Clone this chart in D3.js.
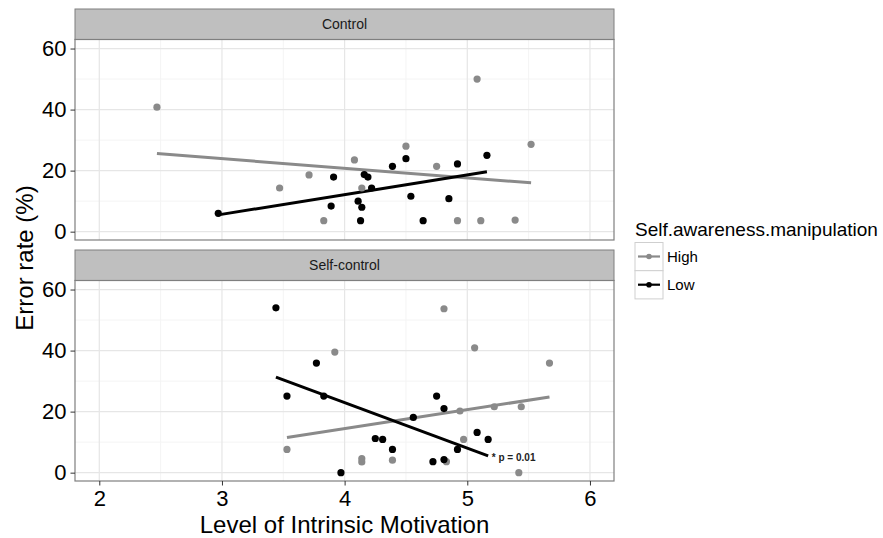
<!DOCTYPE html>
<html>
<head>
	<style>
		html, body { margin: 0; padding: 0; background: white; }
		svg { display: block; font-family: "Liberation Sans", Arial, sans-serif; }
	</style>
</head>
<body>
<svg id="chart" width="883" height="538"></svg>
<script src="https://d3js.org/d3.v7.min.js"></script>
<script>

// facets, groups and ticks
var panels = ['Control', 'Self-control']
var groups = ['High', 'Low']
var xTicks = [2, 3, 4, 5, 6]
var yTicks = [0, 20, 40, 60]

// Control panel, [intrinsic motivation, error rate]
var controlHigh = [
	[2.47, 40.8], [3.47, 14.3], [3.71, 18.6], [3.83, 3.6], [4.08, 23.5],
	[4.14, 14.3], [4.50, 28.0], [4.75, 21.4], [4.92, 3.6], [5.08, 50.0],
	[5.11, 3.6], [5.39, 3.8], [5.52, 28.6]
]
var controlLow = [
	[2.97, 6.0], [3.89, 8.4], [3.91, 17.9], [4.11, 10.0], [4.14, 8.0],
	[4.13, 3.6], [4.16, 18.7], [4.19, 17.9], [4.22, 14.3], [4.39, 21.4],
	[4.50, 23.9], [4.54, 11.6], [4.64, 3.6], [4.85, 10.8], [4.92, 22.2],
	[5.16, 25.0]
]

// Self-control panel
var selfHigh = [
	[3.53, 7.6], [3.92, 39.5], [4.14, 4.6], [4.14, 3.5], [4.39, 4.1],
	[4.81, 53.7], [4.83, 3.6], [4.94, 20.2], [4.97, 10.9], [5.06, 40.9],
	[5.22, 21.6], [5.42, 0.0], [5.44, 21.6], [5.67, 35.9]
]
var selfLow = [
	[3.44, 54.0], [3.53, 25.1], [3.77, 35.9], [3.83, 25.1], [3.97, 0.0],
	[4.25, 11.2], [4.31, 10.9], [4.39, 7.6], [4.56, 18.1], [4.72, 3.6],
	[4.75, 25.1], [4.81, 21.0], [4.81, 4.3], [4.92, 7.6], [5.08, 13.2],
	[5.17, 10.9]
]

var controlHighFit = [[2.47, 25.6], [5.52, 16.0]]
var controlLowFit = [[2.97, 5.5], [5.16, 19.6]]
var selfHighFit = [[3.53, 11.5], [5.67, 24.8]]
var selfLowFit = [[3.44, 31.3], [5.17, 5.5]]

var note = { panel: 1, x: 5.20, y: 3.9, text: '* p = 0.01' }

var cfg = {
	left: 75,
	right: 614,
	stripTop: [9, 250],
	stripH: 30.5,
	plotH: 200.5,
	pointR: 3.6,
	lineW: 3,
	colors: { High: '#8a8a8a', Low: '#000000' }
}

var panelData = [
	{ name: panels[0], pts: { High: controlHigh, Low: controlLow }, fit: { High: controlHighFit, Low: controlLowFit } },
	{ name: panels[1], pts: { High: selfHigh, Low: selfLow }, fit: { High: selfHighFit, Low: selfLowFit } }
]

var svg = d3.select('#chart')

var x = d3.scaleLinear()
	.domain([1.802, 6.196])
	.range([cfg.left, cfg.right])

var minorX = [2.5, 3.5, 4.5, 5.5]
var minorY = [10, 30, 50]

panelData.forEach(function(p, i) {
	var top = cfg.stripTop[i] + cfg.stripH
	var y = d3.scaleLinear()
		.domain([-2.73, 62.96])
		.range([top + cfg.plotH, top])

	var g = svg.append('g')

	// strip
	g.append('rect')
		.attr('x', cfg.left).attr('y', cfg.stripTop[i])
		.attr('width', cfg.right - cfg.left).attr('height', cfg.stripH)
		.attr('fill', '#bfbfbf').attr('stroke', '#7f7f7f').attr('stroke-width', 1)
	g.append('text')
		.attr('x', (cfg.left + cfg.right) / 2)
		.attr('y', cfg.stripTop[i] + cfg.stripH / 2 + 5)
		.attr('text-anchor', 'middle')
		.attr('font-size', 14)
		.attr('fill', '#1a1a1a')
		.text(p.name)

	// panel bg + grid
	g.append('rect')
		.attr('x', cfg.left).attr('y', top)
		.attr('width', cfg.right - cfg.left).attr('height', cfg.plotH)
		.attr('fill', 'white')

	g.selectAll('.minx').data(minorX).enter().append('line')
		.attr('x1', function(d) { return x(d) }).attr('x2', function(d) { return x(d) })
		.attr('y1', top).attr('y2', top + cfg.plotH)
		.attr('stroke', '#f4f4f4').attr('stroke-width', 1)
	g.selectAll('.miny').data(minorY).enter().append('line')
		.attr('x1', cfg.left).attr('x2', cfg.right)
		.attr('y1', function(d) { return y(d) }).attr('y2', function(d) { return y(d) })
		.attr('stroke', '#f4f4f4').attr('stroke-width', 1)
	g.selectAll('.majx').data(xTicks).enter().append('line')
		.attr('x1', function(d) { return x(d) }).attr('x2', function(d) { return x(d) })
		.attr('y1', top).attr('y2', top + cfg.plotH)
		.attr('stroke', '#e6e6e6').attr('stroke-width', 1.2)
	g.selectAll('.majy').data(yTicks).enter().append('line')
		.attr('x1', cfg.left).attr('x2', cfg.right)
		.attr('y1', function(d) { return y(d) }).attr('y2', function(d) { return y(d) })
		.attr('stroke', '#e6e6e6').attr('stroke-width', 1.2)

	// fitted lines
	groups.forEach(function(grp) {
		g.append('path')
			.datum(p.fit[grp])
			.attr('fill', 'none')
			.attr('stroke', cfg.colors[grp])
			.attr('stroke-width', cfg.lineW)
			.attr('d', d3.line().x(function(d) { return x(d[0]) }).y(function(d) { return y(d[1]) }))
	})

	// points
	groups.forEach(function(grp) {
		g.selectAll('.pt-' + grp).data(p.pts[grp]).enter().append('circle')
			.attr('cx', function(d) { return x(d[0]) })
			.attr('cy', function(d) { return y(d[1]) })
			.attr('r', cfg.pointR)
			.attr('fill', cfg.colors[grp])
	})

	// border
	g.append('rect')
		.attr('x', cfg.left).attr('y', top)
		.attr('width', cfg.right - cfg.left).attr('height', cfg.plotH)
		.attr('fill', 'none').attr('stroke', '#7f7f7f').attr('stroke-width', 1.2)

	// y axis
	var ay = g.append('g').attr('transform', 'translate(' + cfg.left + ',0)')
		.call(d3.axisLeft(y).tickValues(yTicks).tickSize(4.5).tickPadding(4).tickFormat(d3.format('d')))
	ay.select('.domain').remove()
	ay.selectAll('line').attr('stroke', '#333')
	ay.selectAll('text').attr('font-size', 22).attr('fill', '#000')
		.attr('font-family', '"Liberation Sans", Arial, sans-serif')

	if (note.panel === i) {
		g.append('text')
			.attr('x', x(note.x)).attr('y', y(note.y))
			.attr('font-size', 10).attr('font-weight', 'bold')
			.attr('fill', '#222')
			.attr('font-family', '"Liberation Sans", Arial, sans-serif')
			.text(note.text)
	}

	if (i === panelData.length - 1) {
		var ax = g.append('g').attr('transform', 'translate(0,' + (top + cfg.plotH) + ')')
			.call(d3.axisBottom(x).tickValues(xTicks).tickSize(4.5).tickPadding(5).tickFormat(d3.format('d')))
		ax.select('.domain').remove()
		ax.selectAll('line').attr('stroke', '#333')
		ax.selectAll('text').attr('font-size', 22).attr('fill', '#000')
			.attr('font-family', '"Liberation Sans", Arial, sans-serif')
	}
})

// axis titles
svg.append('text')
	.attr('x', (cfg.left + cfg.right) / 2).attr('y', 533)
	.attr('text-anchor', 'middle').attr('font-size', 24)
	.text('Level of Intrinsic Motivation')
svg.append('text')
	.attr('transform', 'translate(33,258) rotate(-90)')
	.attr('text-anchor', 'middle').attr('font-size', 24)
	.text('Error rate (%)')

// legend
var leg = svg.append('g').attr('transform', 'translate(635,0)')
leg.append('text')
	.attr('x', 0).attr('y', 236)
	.attr('font-size', 19)
	.text('Self.awareness.manipulation')
groups.forEach(function(grp, k) {
	var ky = 242.5 + k * 28.2
	leg.append('rect')
		.attr('x', 0).attr('y', ky).attr('width', 28).attr('height', 28.2)
		.attr('fill', 'white').attr('stroke', '#cfcfcf').attr('stroke-width', 1)
	leg.append('line')
		.attr('x1', 3).attr('x2', 25).attr('y1', ky + 14).attr('y2', ky + 14)
		.attr('stroke', cfg.colors[grp]).attr('stroke-width', 2.2)
	leg.append('circle')
		.attr('cx', 14).attr('cy', ky + 14).attr('r', 2.8)
		.attr('fill', cfg.colors[grp])
	leg.append('text')
		.attr('x', 32).attr('y', ky + 19.5)
		.attr('font-size', 15)
		.text(grp)
})

</script>
</body>
</html>
